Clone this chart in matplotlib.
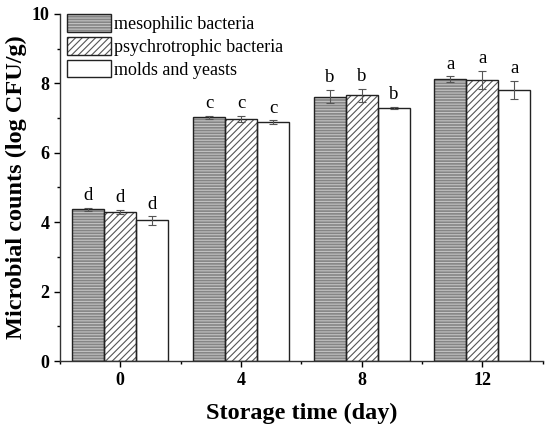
import matplotlib
matplotlib.use("Agg")
import matplotlib.pyplot as plt
import numpy as np
from matplotlib.patches import Patch
from matplotlib.ticker import MultipleLocator

plt.rcParams['font.family'] = ['Liberation Serif', 'DejaVu Serif']
plt.rcParams['hatch.linewidth'] = 0.8

days = ["0", "4", "8", "12"]
series = ["mesophilic bacteria", "psychrotrophic bacteria", "molds and yeasts"]
meso = [4.37, 7.02, 7.62, 8.12]
psych = [4.30, 6.98, 7.65, 8.10]
molds = [4.05, 6.88, 7.29, 7.82]
meso_err = [0.05, 0.05, 0.20, 0.08]
psych_err = [0.06, 0.08, 0.20, 0.26]
molds_err = [0.12, 0.06, 0.03, 0.26]
meso_lab = ["d", "c", "b", "a"]
psych_lab = ["d", "c", "b", "a"]
molds_lab = ["d", "c", "b", "a"]

fig = plt.figure(figsize=(5.5, 4.33), dpi=100)
ax = fig.add_axes([0.109, 0.166, 0.878, 0.802])

x = np.arange(len(days))
w = 0.265
vals = [meso, psych, molds]
errs = [meso_err, psych_err, molds_err]
labs = [meso_lab, psych_lab, molds_lab]
faces = ['#858585', 'white', 'white']
hatchcols = ['#c4c4c4', '#555555', 'white']
hatches = ['------', '/////', '']

for i in range(3):
    pos = x + (i - 1) * w
    ax.bar(pos, vals[i], w, color=faces[i], edgecolor=hatchcols[i], hatch=hatches[i], linewidth=0, zorder=2)
    ax.bar(pos, vals[i], w, fill=False, edgecolor='#222222', linewidth=1.0, zorder=3)
    ax.errorbar(pos, vals[i], yerr=errs[i], fmt='none', ecolor='#555555', elinewidth=0.8, capsize=3, capthick=0.8, zorder=4)
    for p, v, e, t in zip(pos, vals[i], errs[i], labs[i]):
        ax.text(p, v + e + 0.1, t, ha='center', va='bottom', fontsize=13.5)

ax.set_xlim(-0.5, 3.5)
ax.set_ylim(0, 10)
ax.set_xticks(x)
ax.set_xticklabels(days)
ax.set_xticks(np.arange(-0.5, 3.6, 1.0), minor=True)
ax.yaxis.set_major_locator(MultipleLocator(2))
ax.yaxis.set_minor_locator(MultipleLocator(1))
ax.tick_params(axis='both', which='major', direction='out', length=4, width=1, labelsize=13)
ax.tick_params(axis='both', which='minor', direction='out', length=2.5, width=1)
for lab in ax.get_xticklabels() + ax.get_yticklabels():
    lab.set_fontweight('bold')
ax.spines['top'].set_visible(False)
ax.spines['right'].set_visible(False)
for s in ['left', 'bottom']:
    ax.spines[s].set_linewidth(1.0)
    ax.spines[s].set_color('#333333')

ax.set_xlabel("Storage time (day)", fontsize=17.5, fontweight='bold', labelpad=10)
ax.set_ylabel("Microbial counts (log CFU/g)", fontsize=17.5, fontweight='bold', labelpad=3)

handles = [Patch(facecolor=faces[i], edgecolor=hatchcols[i], hatch=hatches[i], linewidth=0) for i in range(3)]
handles2 = [Patch(fill=False, edgecolor='#222222', linewidth=1.0) for i in range(3)]
leg = ax.legend([(h, h2) for h, h2 in zip(handles, handles2)], series, loc='upper left',
                bbox_to_anchor=(0.0, 1.02), frameon=False, fontsize=13,
                handlelength=2.4, handleheight=1.15, handletextpad=0.2, labelspacing=0.2,
                borderaxespad=0.2, borderpad=0.2)

fig.savefig("out.png", dpi=100)
